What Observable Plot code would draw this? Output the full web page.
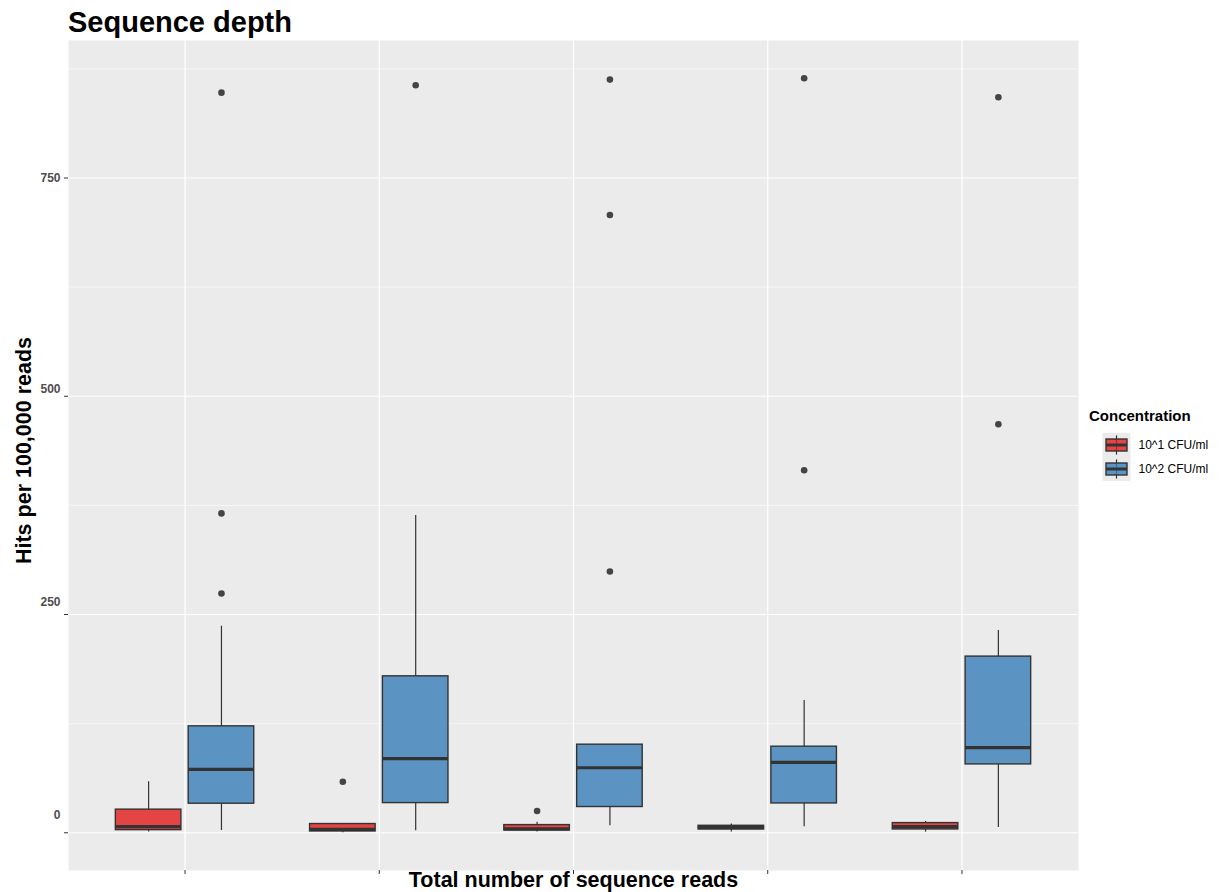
<!DOCTYPE html>
<html>
<head>
<meta charset="utf-8">
<script src="https://cdn.jsdelivr.net/npm/d3@7"></script>
<script src="https://cdn.jsdelivr.net/npm/@observablehq/plot@0.6"></script>
<style>
  body { margin: 0; background: #fff; font-family: "Liberation Sans", Arial, sans-serif; }
  #wrap { position: relative; width: 1219px; height: 892px; overflow: hidden; }
  #title { height: 40px; margin: 0; padding: 2px 0 0 68px; box-sizing: border-box;
           font-size: 29px; font-weight: bold; line-height: 40px; color: #000; }
  #title span { display: inline-block; line-height: 32px; }
  #legend { position: absolute; left: 1080px; top: 400px; }
  svg { display: block; }
</style>
</head>
<body>
<div id="wrap">
  <div id="title"><span>Sequence depth</span></div>
  <div id="chart"></div>
  <div id="legend"></div>
</div>
<script>
// Sequencing-depth groups (one box pair per group)
const depthGroups = ["Depth 1", "Depth 2", "Depth 3", "Depth 4", "Depth 5"];
const concentrations = ["10^1 CFU/ml", "10^2 CFU/ml"];
const concentrationColors = ["#E41A1C", "#377EB8"];

// Box statistics, 10^1 CFU/ml
const low10e1 = [0.8, 0, 1, 0.8, 0.8];
const q1_10e1 = [3, 1.5, 2.6, 3.8, 3.8];
const median10e1 = [7, 4, 4.5, 6, 7];
const q3_10e1 = [26.5, 10, 8.8, 8, 11.1];
const high10e1 = [58.5, 10.5, 12, 10, 13];
const outliers10e1 = [[], [58.5], [25], [], []];

// Box statistics, 10^2 CFU/ml
const low10e2 = [2.6, 2.3, 8, 6.9, 6.1];
const q1_10e2 = [33.3, 34, 29.5, 33.6, 78.3];
const median10e2 = [72.6, 84.9, 74.5, 80.6, 97.5];
const q3_10e2 = [121.9, 179.2, 100.9, 98.6, 201.8];
const high10e2 = [236.6, 363.5, 100.9, 151.4, 231.7];
const outliers10e2 = [[274, 365.8, 847.8], [856.3], [299.3, 707.6, 862.7], [415.3, 864.3], [467.9, 842.5]];

// Axis ticks
const yTicks = [0, 250, 500, 750];
const yMinorTicks = [125, 375, 625, 875];
const yTickLabels = ["0", "250", "500", "750"];

// ---- build tables ----
const stats = [
  {low: low10e1, q1: q1_10e1, med: median10e1, q3: q3_10e1, high: high10e1, out: outliers10e1},
  {low: low10e2, q1: q1_10e2, med: median10e2, q3: q3_10e2, high: high10e2, out: outliers10e2}
];
const dodgeStep = 0.75 / concentrations.length;   // width 0.75 split between the two boxes
const halfBox = dodgeStep * 0.9 / 2;               // 10% padding between boxes
const boxes = [];
const outliers = [];
depthGroups.forEach((g, i) => {
  concentrations.forEach((c, j) => {
    const s = stats[j];
    const xc = i + (j - (concentrations.length - 1) / 2) * dodgeStep;
    boxes.push({group: g, conc: c, xc, x1: xc - halfBox, x2: xc + halfBox,
                low: s.low[i], q1: s.q1[i], med: s.med[i], q3: s.q3[i], high: s.high[i]});
    s.out[i].forEach(v => outliers.push({group: g, conc: c, xc, value: v}));
  });
});

const allValues = boxes.flatMap(b => [b.low, b.high]).concat(outliers.map(o => o.value));
const yMin = d3.min(allValues), yMax = d3.max(allValues);
const pad = (yMax - yMin) * 0.05;
const groupIdx = depthGroups.map((_, i) => i);

// per-label vertical nudges of the y tick labels
const yLabelShift = [-17.5, -12, -7.5, 0];

const font = "Liberation Sans, Arial, sans-serif";
const ink = "#333333";

const tickLabelMarks = yTicks.map((t, k) =>
  Plot.text([t], {
    y: d => d, frameAnchor: "left", dx: -8, dy: yLabelShift[k],
    text: () => yTickLabels[k], textAnchor: "end", lineAnchor: "middle",
    fontSize: 12, fontWeight: "bold", fill: "#4D4D4D"
  })
);

const chart = Plot.plot({
  width: 1219,
  height: 852,
  marginTop: 0,
  marginBottom: 22,
  marginLeft: 68,
  marginRight: 141,
  style: {fontFamily: font, background: "transparent", overflow: "visible"},
  x: {type: "linear", domain: [-0.6, depthGroups.length - 0.4], axis: null},
  y: {domain: [yMin - pad, yMax + pad], axis: null},
  color: {domain: concentrations, range: concentrationColors},
  marks: [
    Plot.frame({fill: "#EBEBEB", stroke: null}),
    Plot.gridY(yMinorTicks, {stroke: "#fff", strokeOpacity: 1, strokeWidth: 0.6}),
    Plot.gridY(yTicks, {stroke: "#fff", strokeOpacity: 1, strokeWidth: 1.2}),
    Plot.gridX(groupIdx, {stroke: "#fff", strokeOpacity: 1, strokeWidth: 1.2}),
    Plot.axisX(groupIdx, {tickSize: 4, tickFormat: () => "", stroke: ink, label: null}),
    Plot.axisY(yTicks, {tickSize: 4, tickFormat: () => "", stroke: ink, label: null}),
    ...tickLabelMarks,
    // whiskers
    Plot.ruleX(boxes, {x: "xc", y1: "low", y2: "q1", stroke: ink, strokeWidth: 1.2}),
    Plot.ruleX(boxes, {x: "xc", y1: "q3", y2: "high", stroke: ink, strokeWidth: 1.2}),
    // boxes
    Plot.rect(boxes, {x1: "x1", x2: "x2", y1: "q1", y2: "q3", fill: "conc", fillOpacity: 0.8,
                      stroke: ink, strokeWidth: 1.4}),
    // medians
    Plot.ruleY(boxes, {x1: "x1", x2: "x2", y: "med", stroke: ink, strokeWidth: 3.2}),
    // outliers
    Plot.dot(outliers, {x: "xc", y: "value", r: 3.3, fill: "#444", stroke: null}),
    // axis titles
    Plot.text(["Total number of sequence reads"], {
      frameAnchor: "bottom", dy: 1.5, lineAnchor: "top", textAnchor: "middle",
      fontSize: 21.5, fontWeight: "bold", fill: "#000"
    }),
    Plot.text(["Hits per 100,000 reads"], {
      frameAnchor: "left", dx: -44, dy: -5, rotate: -90, lineAnchor: "middle", textAnchor: "middle",
      fontSize: 21.5, fontWeight: "bold", fill: "#000"
    })
  ]
});
document.getElementById("chart").appendChild(chart);

// ---- legend with boxplot keys ----
const keyW = 28, keyH = 24, keyX = 22.5, keyY = 33;
const leg = d3.select("#legend").append("svg")
  .attr("width", 139).attr("height", 92)
  .style("font-family", font);
leg.append("text").attr("x", 9).attr("y", 21)
  .attr("font-size", 15).attr("font-weight", "bold").attr("fill", "#000")
  .text("Concentration");
concentrations.forEach((c, j) => {
  const g = leg.append("g").attr("transform", `translate(${keyX},${keyY + j * keyH})`);
  g.append("rect").attr("width", keyW).attr("height", keyH).attr("fill", "#EBEBEB");
  g.append("line").attr("x1", keyW / 2).attr("x2", keyW / 2)
    .attr("y1", keyH * 0.1).attr("y2", keyH * 0.9).attr("stroke", ink).attr("stroke-width", 1.2);
  g.append("rect").attr("x", keyW * 0.125).attr("y", keyH * 0.25)
    .attr("width", keyW * 0.75).attr("height", keyH * 0.5)
    .attr("fill", concentrationColors[j]).attr("fill-opacity", 0.8)
    .attr("stroke", ink).attr("stroke-width", 1.4);
  g.append("line").attr("x1", keyW * 0.125).attr("x2", keyW * 0.875)
    .attr("y1", keyH / 2).attr("y2", keyH / 2).attr("stroke", ink).attr("stroke-width", 3);
  leg.append("text").attr("x", keyX + keyW + 8).attr("y", keyY + j * keyH + keyH / 2)
    .attr("dy", "0.35em").attr("font-size", 12).attr("fill", "#000").text(c);
});
</script>
</body>
</html>
